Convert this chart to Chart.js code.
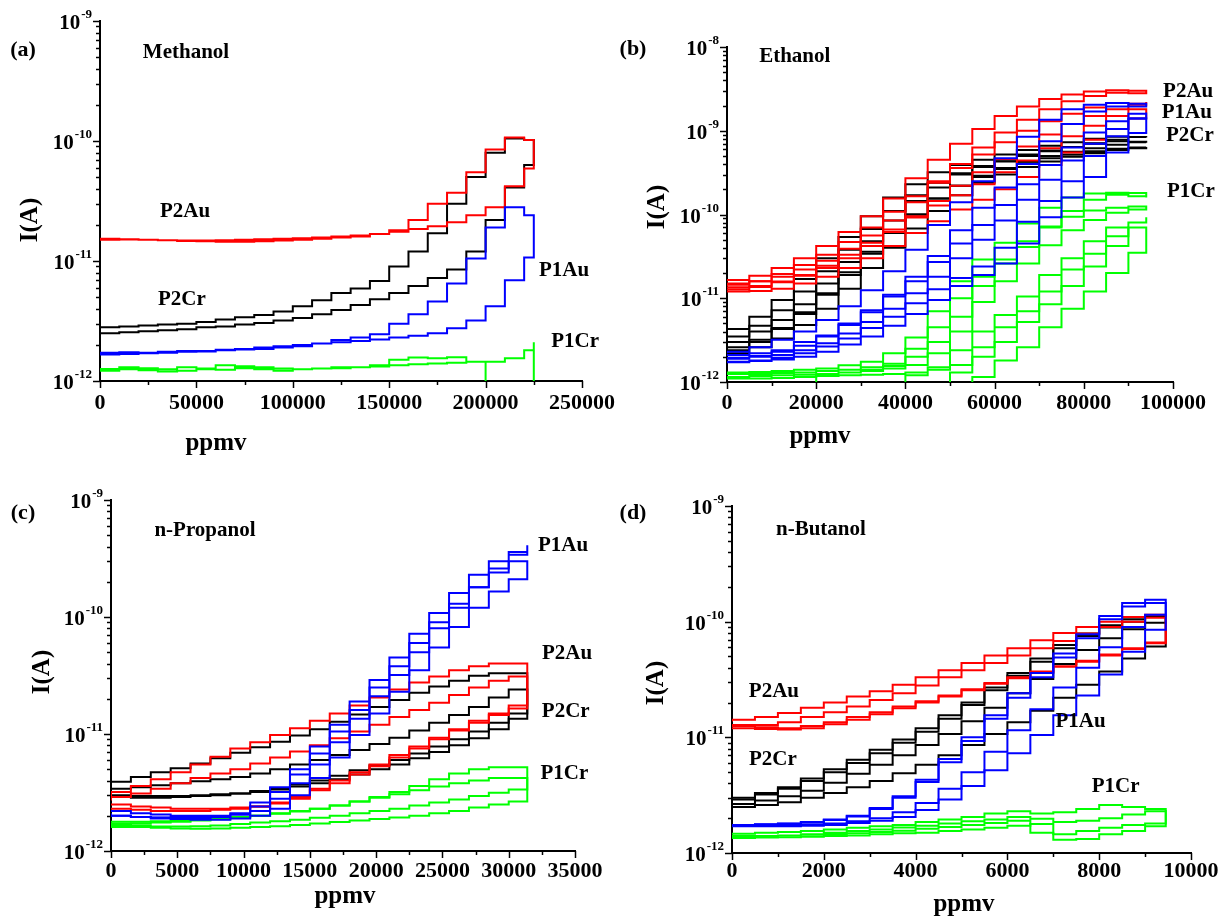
<!DOCTYPE html>
<html><head><meta charset="utf-8">
<script src="https://cdn.jsdelivr.net/npm/chart.js@4.4.0/dist/chart.umd.min.js"></script>
<style>
html,body{margin:0;padding:0;background:#fff;width:1224px;height:919px;overflow:hidden;position:relative}
canvas{position:absolute}
</style>
</head><body>
<canvas id="ca" width="650" height="459" style="left:0px;top:0px"></canvas>
<canvas id="cb" width="624" height="459" style="left:600px;top:0px"></canvas>
<canvas id="cc" width="650" height="460" style="left:0px;top:459px"></canvas>
<canvas id="cd" width="624" height="460" style="left:600px;top:459px"></canvas>
<script>
// ---------------- (a) Methanol ----------------
const MeOH_X = [0,10000,20000,30000,40000,50000,60000,70000,80000,90000,100000,110000,120000,130000,140000,150000,160000,170000,180000,190000,200000,210000,220000,225000];
const MeOH_P2Au_up = [1.5e-11,1.52e-11,1.5e-11,1.49e-11,1.47e-11,1.46e-11,1.45e-11,1.45e-11,1.46e-11,1.48e-11,1.5e-11,1.53e-11,1.57e-11,1.6e-11,1.68e-11,1.8e-11,2.2e-11,3.0e-11,3.7e-11,5.5e-11,8.5e-11,1.07e-10,1.02e-10,1.02e-10];
const MeOH_P2Au_dn = [1.55e-11,1.53e-11,1.51e-11,1.5e-11,1.49e-11,1.48e-11,1.48e-11,1.49e-11,1.5e-11,1.52e-11,1.53e-11,1.55e-11,1.57e-11,1.6e-11,1.63e-11,1.68e-11,1.75e-11,1.85e-11,1.95e-11,2.1e-11,2.4e-11,2.8e-11,4.2e-11,5.9e-11];
const MeOH_P2Cr_up = [2.8e-12,2.85e-12,2.9e-12,2.95e-12,3.0e-12,3.1e-12,3.25e-12,3.4e-12,3.55e-12,3.8e-12,4.2e-12,4.7e-12,5.4e-12,5.9e-12,6.8e-12,9.0e-12,1.2e-11,1.7e-11,3.0e-11,5.0e-11,8.0e-11,1.05e-10,1.02e-10,1.02e-10];
const MeOH_P2Cr_dn = [2.45e-12,2.5e-12,2.55e-12,2.6e-12,2.65e-12,2.7e-12,2.8e-12,2.85e-12,2.95e-12,3.05e-12,3.2e-12,3.35e-12,3.6e-12,3.9e-12,4.3e-12,4.8e-12,5.4e-12,6.2e-12,7.2e-12,8.5e-12,1.2e-11,2.2e-11,4.1e-11,6.3e-11];
const MeOH_P1Au_up = [1.72e-12,1.74e-12,1.72e-12,1.75e-12,1.78e-12,1.76e-12,1.8e-12,1.83e-12,1.85e-12,1.9e-12,1.95e-12,2.05e-12,2.2e-12,2.3e-12,2.45e-12,3.0e-12,3.6e-12,4.6e-12,6.5e-12,1.05e-11,1.9e-11,2.8e-11,2.4e-11,2.4e-11];
const MeOH_P1Au_dn = [1.68e-12,1.66e-12,1.68e-12,1.7e-12,1.72e-12,1.75e-12,1.78e-12,1.82e-12,1.85e-12,1.9e-12,1.95e-12,2.0e-12,2.05e-12,2.1e-12,2.15e-12,2.22e-12,2.3e-12,2.38e-12,2.5e-12,2.75e-12,3.2e-12,4.2e-12,6.9e-12,1.07e-11];
const MeOH_P1Cr_up = [1.26e-12,1.3e-12,1.28e-12,1.25e-12,1.3e-12,1.27e-12,1.24e-12,1.33e-12,1.3e-12,1.27e-12,1.25e-12,1.27e-12,1.28e-12,1.3e-12,1.32e-12,1.35e-12,1.38e-12,1.4e-12,1.42e-12,1.45e-12,1.45e-12,1.55e-12,1.8e-12,2.1e-12];
const MeOH_P1Cr_dn = [1.2e-12,1.22e-12,1.25e-12,1.23e-12,1.2e-12,1.22e-12,1.25e-12,1.35e-12,1.28e-12,1.25e-12,1.22e-12,1.25e-12,1.27e-12,1.3e-12,1.3e-12,1.35e-12,1.5e-12,1.57e-12,1.55e-12,1.58e-12,1.45e-12,0.85e-12,0.85e-12,0.85e-12];

// ---------------- (b) Ethanol ----------------
const EtOH_X = [0,5000,10000,15000,20000,25000,30000,35000,40000,45000,50000,55000,60000,65000,70000,75000,80000,85000,90000,94000];
const EtOH_P2Au_up1 = [1.5e-11,1.6e-11,1.8e-11,2.2e-11,2.8e-11,3.9e-11,5.6e-11,8.5e-11,1.4e-10,2.4e-10,4.0e-10,6.3e-10,9.5e-10,1.35e-9,1.8e-9,2.25e-9,2.6e-9,2.85e-9,3.0e-9,2.85e-9];
const EtOH_P2Au_dn1 = [1.6e-11,1.65e-11,1.85e-11,2.3e-11,3.0e-11,4.2e-11,6.2e-11,9.5e-11,1.55e-10,2.7e-10,4.5e-10,7.0e-10,1.05e-9,1.5e-9,1.95e-9,2.4e-9,2.7e-9,2.95e-9,3.05e-9,2.8e-9];
const EtOH_P2Au_up2 = [1.35e-11,1.4e-11,1.55e-11,1.85e-11,2.3e-11,3.0e-11,4.2e-11,6.2e-11,9.5e-11,1.45e-10,2.2e-10,3.2e-10,4.6e-10,6.5e-10,9.0e-10,1.2e-9,1.5e-9,1.8e-9,2.1e-9,2.2e-9];
const EtOH_P2Au_dn2 = [1.4e-11,1.45e-11,1.6e-11,1.95e-11,2.5e-11,3.3e-11,4.7e-11,7.0e-11,1.08e-10,1.65e-10,2.5e-10,3.6e-10,5.2e-10,7.3e-10,1.0e-9,1.3e-9,1.6e-9,1.9e-9,2.15e-9,2.05e-9];
const EtOH_P2Au_up3 = [1.2e-11,1.22e-11,1.3e-11,1.5e-11,1.8e-11,2.3e-11,3.0e-11,4.2e-11,6.0e-11,8.3e-11,1.15e-10,1.5e-10,2.0e-10,2.8e-10,3.9e-10,5.5e-10,7.8e-10,1.05e-9,1.4e-9,1.75e-9];
const EtOH_P2Au_dn3 = [1.25e-11,1.28e-11,1.36e-11,1.58e-11,1.9e-11,2.45e-11,3.3e-11,4.6e-11,6.6e-11,9.2e-11,1.28e-10,1.7e-10,2.3e-10,3.2e-10,4.4e-10,6.2e-10,8.6e-10,1.15e-9,1.5e-9,1.8e-9];
const EtOH_P2Cr_up1 = [3.0e-12,4.0e-12,5.5e-12,8.5e-12,1.5e-11,2.7e-11,4.8e-11,8.5e-11,1.45e-10,2.1e-10,3.0e-10,3.7e-10,4.3e-10,5.0e-10,5.7e-10,6.4e-10,7.1e-10,7.8e-10,8.4e-10,8.3e-10];
const EtOH_P2Cr_dn1 = [3.2e-12,4.3e-12,6.0e-12,9.5e-12,1.7e-11,3.0e-11,5.4e-11,9.5e-11,1.6e-10,2.3e-10,3.2e-10,3.9e-10,4.5e-10,5.2e-10,5.9e-10,6.6e-10,7.3e-10,8.0e-10,8.5e-10,8.4e-10];
const EtOH_P2Cr_up2 = [2.6e-12,3.2e-12,4.3e-12,6.5e-12,1.1e-11,1.9e-11,3.4e-11,6.0e-11,1.0e-10,1.55e-10,2.2e-10,2.9e-10,3.6e-10,4.3e-10,5.0e-10,5.6e-10,6.2e-10,6.8e-10,7.3e-10,7.2e-10];
const EtOH_P2Cr_dn2 = [2.8e-12,3.5e-12,4.7e-12,7.2e-12,1.2e-11,2.1e-11,3.8e-11,6.7e-11,1.1e-10,1.7e-10,2.4e-10,3.1e-10,3.8e-10,4.5e-10,5.2e-10,5.8e-10,6.4e-10,7.0e-10,7.5e-10,7.4e-10];
const EtOH_P2Cr_up3 = [2.2e-12,2.6e-12,3.3e-12,4.8e-12,7.5e-12,1.3e-11,2.3e-11,4.0e-11,6.8e-11,1.1e-10,1.7e-10,2.4e-10,3.0e-10,3.7e-10,4.3e-10,4.9e-10,5.4e-10,5.9e-10,6.3e-10,6.4e-10];
const EtOH_P2Cr_dn3 = [2.0e-12,2.4e-12,3.0e-12,4.4e-12,6.8e-12,1.15e-11,2.05e-11,3.6e-11,6.1e-11,1.0e-10,1.55e-10,2.2e-10,2.8e-10,3.5e-10,4.1e-10,4.7e-10,5.2e-10,5.7e-10,6.1e-10,6.2e-10];
const EtOH_P1Au_up1 = [2.1e-12,2.2e-12,2.4e-12,3.0e-12,3.6e-12,5.0e-12,7.2e-12,1.1e-11,1.8e-11,3.2e-11,6.5e-11,1.2e-10,2.1e-10,4.0e-10,7.5e-10,1.2e-9,1.7e-9,1.95e-9,2.1e-9,1.9e-9];
const EtOH_P1Au_dn1 = [2.2e-12,2.3e-12,2.6e-12,3.2e-12,4.0e-12,5.5e-12,8.0e-12,1.25e-11,2.1e-11,3.8e-11,7.5e-11,1.4e-10,2.5e-10,4.7e-10,8.5e-10,1.35e-9,1.8e-9,2.05e-9,2.15e-9,1.95e-9];
const EtOH_P1Au_up2 = [1.9e-12,2.0e-12,2.1e-12,2.4e-12,2.9e-12,3.8e-12,5.2e-12,7.5e-12,1.15e-11,1.8e-11,3.0e-11,5.0e-11,8.5e-11,1.5e-10,2.6e-10,4.4e-10,7.0e-10,1.05e-9,1.4e-9,1.65e-9];
const EtOH_P1Au_dn2 = [1.85e-12,1.95e-12,2.05e-12,2.3e-12,2.7e-12,3.5e-12,4.8e-12,6.8e-12,1.05e-11,1.6e-11,2.7e-11,4.5e-11,7.5e-11,1.3e-10,2.3e-10,3.9e-10,6.3e-10,9.5e-10,1.3e-9,1.6e-9];
const EtOH_P1Au_up3 = [1.75e-12,1.78e-12,1.85e-12,2.0e-12,2.3e-12,2.8e-12,3.5e-12,4.7e-12,6.5e-12,9.5e-12,1.4e-11,1.9e-11,2.6e-11,4.5e-11,9.3e-11,1.6e-10,2.8e-10,5.5e-10,9.4e-10,1.45e-9];
const EtOH_P1Au_dn3 = [1.7e-12,1.72e-12,1.8e-12,1.95e-12,2.2e-12,2.65e-12,3.3e-12,4.4e-12,6.0e-12,8.7e-12,1.28e-11,1.75e-11,2.4e-11,4.0e-11,8.2e-11,1.45e-10,2.5e-10,5.0e-10,8.6e-10,1.4e-9];
const EtOH_P1Cr_up1 = [1.25e-12,1.25e-12,1.28e-12,1.3e-12,1.35e-12,1.4e-12,1.5e-12,1.65e-12,2.0e-12,3.0e-12,6.0e-12,1.4e-11,2.6e-11,4.1e-11,7.0e-11,1.1e-10,1.5e-10,1.72e-10,1.8e-10,1.6e-10];
const EtOH_P1Cr_dn1 = [1.3e-12,1.3e-12,1.32e-12,1.35e-12,1.4e-12,1.45e-12,1.58e-12,1.75e-12,2.2e-12,3.4e-12,7.0e-12,1.6e-11,2.9e-11,4.6e-11,7.8e-11,1.2e-10,1.6e-10,1.78e-10,1.82e-10,1.65e-10];
const EtOH_P1Cr_up2 = [1.15e-12,1.18e-12,1.2e-12,1.22e-12,1.25e-12,1.3e-12,1.35e-12,1.45e-12,1.6e-12,2.2e-12,4.0e-12,9.0e-12,1.6e-11,2.6e-11,4.3e-11,6.5e-11,8.6e-11,1.05e-10,1.15e-10,1.2e-10];
const EtOH_P1Cr_dn2 = [0.9e-12,0.9e-12,0.9e-12,0.9e-12,0.9e-12,1.2e-12,1.3e-12,1.4e-12,1.55e-12,2.5e-12,4.5e-12,1.0e-11,1.8e-11,2.9e-11,4.8e-11,7.2e-11,9.4e-11,1.12e-10,1.2e-10,1.25e-10];
const EtOH_P1Cr_up3 = [1.1e-12,1.1e-12,1.12e-12,1.15e-12,1.18e-12,1.2e-12,1.22e-12,1.25e-12,1.3e-12,1.4e-12,1.6e-12,2.6e-12,4.5e-12,7.0e-12,1.2e-11,2.2e-11,3.4e-11,5.5e-11,8.0e-11,9.3e-11];
const EtOH_P1Cr_dn3 = [0.85e-12,0.85e-12,0.85e-12,0.85e-12,0.85e-12,0.85e-12,0.85e-12,0.85e-12,0.85e-12,1.2e-12,1.5e-12,2.4e-12,4.0e-12,6.3e-12,1.05e-11,1.9e-11,3.0e-11,4.8e-11,7.0e-11,8.0e-11];
const EtOH_P1Cr_up4 = [0.85e-12,0.85e-12,0.85e-12,0.85e-12,0.85e-12,0.85e-12,0.85e-12,0.85e-12,0.85e-12,0.85e-12,0.9e-12,1.15e-12,1.8e-12,2.6e-12,4.5e-12,7.5e-12,1.2e-11,2.0e-11,3.5e-11,6.5e-11];
const EtOH_P1Cr_dn4 = [0.85e-12,0.85e-12,0.85e-12,0.85e-12,0.85e-12,0.85e-12,0.85e-12,0.85e-12,0.85e-12,0.85e-12,0.85e-12,1.3e-12,2.0e-12,3.0e-12,5.2e-12,8.5e-12,1.4e-11,2.4e-11,4.2e-11,7.0e-11];

// ---------------- (c) n-Propanol ----------------
const PrOH_X = [0,1500,3000,4500,6000,7500,9000,10500,12000,13500,15000,16500,18000,19500,21000,22500,24000,25500,27000,28500,30000,31400];
const PrOH_P1Au_up1 = [2.2e-12,2.1e-12,2.05e-12,2.0e-12,2.0e-12,2.0e-12,2.05e-12,2.2e-12,2.8e-12,3.8e-12,5.5e-12,8.5e-12,1.35e-11,2.1e-11,3.2e-11,5.0e-11,8.0e-11,1.2e-10,1.8e-10,2.6e-10,3.4e-10,4.1e-10];
const PrOH_P1Au_dn1 = [2.1e-12,2.0e-12,1.95e-12,1.92e-12,1.92e-12,1.92e-12,1.95e-12,2.1e-12,2.6e-12,3.5e-12,5.0e-12,7.8e-12,1.2e-11,1.9e-11,2.9e-11,4.5e-11,7.2e-11,1.08e-10,1.6e-10,2.3e-10,3.0e-10,3.6e-10];
const PrOH_P1Au_up2 = [2.0e-12,1.95e-12,1.9e-12,1.88e-12,1.85e-12,1.85e-12,1.9e-12,2.0e-12,2.3e-12,3.0e-12,4.2e-12,6.3e-12,9.8e-12,1.5e-11,2.3e-11,3.5e-11,5.5e-11,8.2e-11,1.2e-10,1.65e-10,2.1e-10,2.4e-10];
const PrOH_P1Au_dn2 = [2.05e-12,2.0e-12,1.95e-12,1.93e-12,1.9e-12,1.9e-12,1.95e-12,2.05e-12,2.4e-12,3.2e-12,4.5e-12,6.8e-12,1.05e-11,1.6e-11,2.5e-11,3.8e-11,6.0e-11,9.0e-11,1.3e-10,1.8e-10,2.4e-10,3.0e-10];
const PrOH_P2Au_up1 = [2.5e-12,2.4e-12,2.35e-12,2.3e-12,2.3e-12,2.3e-12,2.35e-12,2.4e-12,2.55e-12,2.8e-12,3.4e-12,4.0e-12,4.7e-12,5.5e-12,6.6e-12,7.8e-12,9.3e-12,1.1e-11,1.3e-11,1.5e-11,1.75e-11,1.95e-11];
const PrOH_P2Au_dn1 = [2.8e-12,3.2e-12,3.6e-12,4.1e-12,4.7e-12,5.5e-12,6.4e-12,7.5e-12,8.5e-12,9.8e-12,1.12e-11,1.3e-11,1.5e-11,1.75e-11,2.05e-11,2.4e-11,2.75e-11,3.1e-11,3.5e-11,3.8e-11,4.0e-11,4.0e-11];
const PrOH_P2Au_up2 = [2.3e-12,2.25e-12,2.2e-12,2.2e-12,2.2e-12,2.25e-12,2.3e-12,2.4e-12,2.6e-12,2.9e-12,3.3e-12,3.8e-12,4.5e-12,5.3e-12,6.3e-12,7.5e-12,9.0e-12,1.07e-11,1.25e-11,1.45e-11,1.65e-11,1.75e-11];
const PrOH_P2Au_dn2 = [2.7e-12,2.9e-12,3.1e-12,3.4e-12,3.8e-12,4.2e-12,4.6e-12,5.0e-12,5.6e-12,6.3e-12,7.1e-12,8.0e-12,9.2e-12,1.05e-11,1.2e-11,1.4e-11,1.6e-11,1.85e-11,2.15e-11,2.5e-11,2.85e-11,3.1e-11];
const PrOH_P2Cr_up1 = [3.0e-12,2.95e-12,2.95e-12,2.95e-12,3.0e-12,3.05e-12,3.1e-12,3.2e-12,3.35e-12,3.55e-12,3.8e-12,4.1e-12,4.5e-12,5.0e-12,5.5e-12,6.2e-12,7.0e-12,8.0e-12,9.2e-12,1.1e-11,1.35e-11,1.6e-11];
const PrOH_P2Cr_dn1 = [3.6e-12,3.9e-12,4.3e-12,4.7e-12,5.1e-12,5.6e-12,6.2e-12,6.9e-12,7.7e-12,8.6e-12,9.7e-12,1.1e-11,1.27e-11,1.47e-11,1.7e-11,1.95e-11,2.25e-11,2.55e-11,2.85e-11,3.15e-11,3.3e-11,3.3e-11];
const PrOH_P2Cr_up2 = [2.9e-12,2.85e-12,2.85e-12,2.9e-12,2.95e-12,3.0e-12,3.1e-12,3.25e-12,3.45e-12,3.7e-12,4.0e-12,4.4e-12,4.9e-12,5.4e-12,6.0e-12,6.8e-12,7.8e-12,9.0e-12,1.05e-11,1.25e-11,1.5e-11,1.7e-11];
const PrOH_P2Cr_dn2 = [3.3e-12,3.4e-12,3.5e-12,3.65e-12,3.8e-12,3.95e-12,4.1e-12,4.3e-12,4.6e-12,5.0e-12,5.5e-12,6.0e-12,6.6e-12,7.3e-12,8.2e-12,9.3e-12,1.07e-11,1.25e-11,1.45e-11,1.7e-11,2.05e-11,2.4e-11];
const PrOH_P1Cr_up1 = [1.6e-12,1.6e-12,1.58e-12,1.56e-12,1.55e-12,1.56e-12,1.58e-12,1.6e-12,1.63e-12,1.67e-12,1.72e-12,1.77e-12,1.82e-12,1.88e-12,1.93e-12,2.0e-12,2.1e-12,2.2e-12,2.35e-12,2.5e-12,2.65e-12,2.8e-12];
const PrOH_P1Cr_dn1 = [1.8e-12,1.78e-12,1.78e-12,1.8e-12,1.82e-12,1.85e-12,1.9e-12,1.95e-12,2.0e-12,2.1e-12,2.2e-12,2.3e-12,2.45e-12,2.65e-12,2.9e-12,3.2e-12,3.6e-12,4.1e-12,4.6e-12,5.0e-12,5.2e-12,5.2e-12];
const PrOH_P1Cr_up2 = [1.65e-12,1.65e-12,1.62e-12,1.62e-12,1.63e-12,1.65e-12,1.7e-12,1.75e-12,1.8e-12,1.85e-12,1.92e-12,2.0e-12,2.1e-12,2.2e-12,2.3e-12,2.45e-12,2.6e-12,2.75e-12,2.95e-12,3.15e-12,3.35e-12,3.5e-12];
const PrOH_P1Cr_dn2 = [1.7e-12,1.72e-12,1.73e-12,1.75e-12,1.78e-12,1.82e-12,1.87e-12,1.93e-12,2.0e-12,2.08e-12,2.18e-12,2.3e-12,2.45e-12,2.65e-12,2.85e-12,3.05e-12,3.3e-12,3.55e-12,3.8e-12,4.0e-12,4.2e-12,4.2e-12];

// ---------------- (d) n-Butanol ----------------
const BuOH_X = [0,500,1000,1500,2000,2500,3000,3500,4000,4500,5000,5500,6000,6500,7000,7500,8000,8500,9000,9450];
const BuOH_P2Au_up1 = [1.25e-11,1.22e-11,1.2e-11,1.25e-11,1.35e-11,1.5e-11,1.65e-11,1.85e-11,2.05e-11,2.3e-11,2.6e-11,2.95e-11,3.3e-11,3.7e-11,4.1e-11,4.5e-11,5.1e-11,5.8e-11,6.6e-11,7.0e-11];
const BuOH_P2Au_dn1 = [1.37e-11,1.42e-11,1.5e-11,1.62e-11,1.8e-11,2.0e-11,2.25e-11,2.5e-11,2.85e-11,3.3e-11,3.8e-11,4.4e-11,5.1e-11,5.9e-11,6.9e-11,8.0e-11,9.0e-11,1.0e-10,1.1e-10,1.15e-10];
const BuOH_P2Au_up2 = [1.2e-11,1.18e-11,1.17e-11,1.2e-11,1.3e-11,1.42e-11,1.58e-11,1.78e-11,2.0e-11,2.25e-11,2.55e-11,2.9e-11,3.25e-11,3.65e-11,4.1e-11,4.6e-11,5.2e-11,5.9e-11,6.5e-11,6.8e-11];
const BuOH_P2Au_dn2 = [1.3e-11,1.28e-11,1.28e-11,1.35e-11,1.5e-11,1.65e-11,1.85e-11,2.1e-11,2.4e-11,2.8e-11,3.3e-11,3.8e-11,4.4e-11,5.1e-11,5.9e-11,6.8e-11,7.9e-11,9.0e-11,1.0e-10,1.08e-10];
const BuOH_P2Cr_up1 = [2.5e-12,2.6e-12,2.75e-12,3.0e-12,3.3e-12,3.7e-12,4.2e-12,4.9e-12,5.8e-12,7.0e-12,8.6e-12,1.07e-11,1.35e-11,1.7e-11,2.2e-11,2.85e-11,3.7e-11,4.8e-11,6.1e-11,7.2e-11];
const BuOH_P2Cr_dn1 = [2.8e-12,3.0e-12,3.3e-12,3.7e-12,4.4e-12,5.3e-12,6.4e-12,7.8e-12,9.6e-12,1.2e-11,1.55e-11,2.0e-11,2.7e-11,3.6e-11,4.8e-11,6.3e-11,7.9e-11,9.3e-11,1.05e-10,1.12e-10];
const BuOH_P2Cr_up2 = [2.65e-12,2.85e-12,3.1e-12,3.45e-12,4.05e-12,4.85e-12,5.8e-12,7.0e-12,8.6e-12,1.07e-11,1.38e-11,1.8e-11,2.4e-11,3.2e-11,4.3e-11,5.7e-11,7.2e-11,8.6e-11,9.8e-11,1.07e-10];
const BuOH_P2Cr_dn2 = [2.7e-12,2.9e-12,3.2e-12,3.6e-12,4.2e-12,5.0e-12,6.0e-12,7.3e-12,9.0e-12,1.12e-11,1.45e-11,1.9e-11,2.55e-11,3.4e-11,4.5e-11,5.9e-11,7.5e-11,8.9e-11,1.0e-10,1.1e-10];
const BuOH_P1Au_up1 = [1.7e-12,1.7e-12,1.7e-12,1.72e-12,1.75e-12,1.82e-12,1.9e-12,2.05e-12,2.35e-12,2.9e-12,3.8e-12,5.2e-12,7.3e-12,1.05e-11,1.55e-11,2.3e-11,3.5e-11,5.5e-11,8.5e-11,1.1e-10];
const BuOH_P1Au_dn1 = [1.75e-12,1.75e-12,1.77e-12,1.8e-12,1.85e-12,1.95e-12,2.1e-12,2.45e-12,3.1e-12,4.3e-12,6.5e-12,1.0e-11,1.55e-11,2.4e-11,3.6e-11,5.3e-11,7.8e-11,1.12e-10,1.45e-10,1.55e-10];
const BuOH_P1Au_up2 = [1.72e-12,1.72e-12,1.74e-12,1.76e-12,1.8e-12,1.88e-12,2.0e-12,2.25e-12,2.7e-12,3.6e-12,5.0e-12,7.5e-12,1.15e-11,1.75e-11,2.7e-11,4.0e-11,6.0e-11,9.0e-11,1.15e-10,1.2e-10];
const BuOH_P1Au_dn2 = [1.73e-12,1.74e-12,1.76e-12,1.79e-12,1.84e-12,1.93e-12,2.07e-12,2.4e-12,3.0e-12,4.1e-12,6.1e-12,9.3e-12,1.45e-11,2.2e-11,3.3e-11,4.9e-11,7.2e-11,1.05e-10,1.35e-10,1.45e-10];
const BuOH_P1Cr_up1 = [1.35e-12,1.36e-12,1.37e-12,1.38e-12,1.4e-12,1.42e-12,1.45e-12,1.48e-12,1.5e-12,1.55e-12,1.6e-12,1.65e-12,1.72e-12,1.78e-12,1.3e-12,1.32e-12,1.45e-12,1.55e-12,1.7e-12,1.85e-12];
const BuOH_P1Cr_dn1 = [1.45e-12,1.47e-12,1.5e-12,1.52e-12,1.55e-12,1.6e-12,1.65e-12,1.7e-12,1.75e-12,1.85e-12,1.95e-12,2.05e-12,2.2e-12,2.3e-12,2.2e-12,2.25e-12,2.4e-12,2.6e-12,2.5e-12,2.4e-12];
const BuOH_P1Cr_up2 = [1.4e-12,1.4e-12,1.42e-12,1.44e-12,1.46e-12,1.48e-12,1.52e-12,1.56e-12,1.62e-12,1.68e-12,1.75e-12,1.82e-12,1.9e-12,1.98e-12,1.85e-12,1.9e-12,2.0e-12,2.15e-12,2.3e-12,2.35e-12];
const BuOH_P1Cr_dn2 = [1.38e-12,1.38e-12,1.4e-12,1.42e-12,1.45e-12,1.5e-12,1.55e-12,1.6e-12,1.66e-12,1.72e-12,1.8e-12,1.88e-12,1.95e-12,2.05e-12,1.5e-12,1.45e-12,1.55e-12,1.65e-12,1.75e-12,1.8e-12];

// ---------------- styling / layout ----------------
const FONT = '"Liberation Serif","Times New Roman",serif';
const COLORS = { P2Au: '#ff0000', P2Cr: '#000000', P1Au: '#0000ff', P1Cr: '#00ff00' };

const panels = [
  { canvas: 'ca', xs: MeOH_X, xMax: 250000, xStep: 50000, yMin: 1e-12, yMax: 1e-9,
    area: { left: 100, right: 582, top: 21, bottom: 381 }, tickPad: 9, lw: 2,
    loops: [['P1Au', MeOH_P1Au_up, MeOH_P1Au_dn], ['P2Au', MeOH_P2Au_up, MeOH_P2Au_dn],
            ['P2Cr', MeOH_P2Cr_up, MeOH_P2Cr_dn], ['P1Cr', MeOH_P1Cr_up, MeOH_P1Cr_dn]],
    letter: '(a)', letterPos: [23, 50], name: 'Methanol', namePos: [44600, 5.5e-10],
    labels: [['P2Au', 44100, 2.6e-11], ['P2Cr', 42500, 4.8e-12], ['P1Au', 240700, 8.3e-12], ['P1Cr', 246400, 2.15e-12]],
    xTitle: [216, 444], yTitle: [31, 220] },
  { canvas: 'cb', xs: EtOH_X, xMax: 100000, xStep: 20000, yMin: 1e-12, yMax: 1e-8,
    area: { left: 127, right: 573, top: 47, bottom: 382 }, tickPad: 8, lw: 2,
    loops: [['P1Au', EtOH_P1Au_up1, EtOH_P1Au_dn1], ['P1Au', EtOH_P1Au_up2, EtOH_P1Au_dn2], ['P1Au', EtOH_P1Au_up3, EtOH_P1Au_dn3],
            ['P2Au', EtOH_P2Au_up1, EtOH_P2Au_dn1], ['P2Au', EtOH_P2Au_up2, EtOH_P2Au_dn2], ['P2Au', EtOH_P2Au_up3, EtOH_P2Au_dn3],
            ['P2Cr', EtOH_P2Cr_up1, EtOH_P2Cr_dn1], ['P2Cr', EtOH_P2Cr_up2, EtOH_P2Cr_dn2], ['P2Cr', EtOH_P2Cr_up3, EtOH_P2Cr_dn3],
            ['P1Cr', EtOH_P1Cr_up1, EtOH_P1Cr_dn1], ['P1Cr', EtOH_P1Cr_up2, EtOH_P1Cr_dn2], ['P1Cr', EtOH_P1Cr_up3, EtOH_P1Cr_dn3], ['P1Cr', EtOH_P1Cr_up4, EtOH_P1Cr_dn4]],
    letter: '(b)', letterPos: [33, 49], name: 'Ethanol', namePos: [15200, 7.6e-9],
    labels: [['P2Au', 103400, 2.9e-9], ['P1Au', 103100, 1.63e-9], ['P2Cr', 103800, 8.65e-10], ['P1Cr', 104000, 1.86e-10]],
    xTitle: [220, 437], yTitle: [58, 207] },
  { canvas: 'cc', xs: PrOH_X, xMax: 35000, xStep: 5000, yMin: 1e-12, yMax: 1e-9,
    area: { left: 111, right: 575, top: 41, bottom: 392 }, tickPad: 7, lw: 2,
    loops: [['P1Au', PrOH_P1Au_up1, PrOH_P1Au_dn1], ['P1Au', PrOH_P1Au_up2, PrOH_P1Au_dn2],
            ['P2Au', PrOH_P2Au_up1, PrOH_P2Au_dn1], ['P2Au', PrOH_P2Au_up2, PrOH_P2Au_dn2],
            ['P2Cr', PrOH_P2Cr_up1, PrOH_P2Cr_dn1], ['P2Cr', PrOH_P2Cr_up2, PrOH_P2Cr_dn2],
            ['P1Cr', PrOH_P1Cr_up1, PrOH_P1Cr_dn1], ['P1Cr', PrOH_P1Cr_up2, PrOH_P1Cr_dn2]],
    letter: '(c)', letterPos: [23, 54], name: 'n-Propanol', namePos: [7090, 5.43e-10],
    labels: [['P1Au', 34100, 4.1e-10], ['P2Au', 34400, 4.83e-11], ['P2Cr', 34300, 1.57e-11], ['P1Cr', 34200, 4.55e-12]],
    xTitle: [345, 438], yTitle: [43, 213] },
  { canvas: 'cd', xs: BuOH_X, xMax: 10000, xStep: 2000, yMin: 1e-12, yMax: 1e-9,
    area: { left: 132, right: 591, top: 47, bottom: 394 }, tickPad: 5, lw: 2,
    loops: [['P1Au', BuOH_P1Au_up1, BuOH_P1Au_dn1], ['P1Au', BuOH_P1Au_up2, BuOH_P1Au_dn2],
            ['P2Au', BuOH_P2Au_up1, BuOH_P2Au_dn1], ['P2Au', BuOH_P2Au_up2, BuOH_P2Au_dn2],
            ['P2Cr', BuOH_P2Cr_up1, BuOH_P2Cr_dn1], ['P2Cr', BuOH_P2Cr_up2, BuOH_P2Cr_dn2],
            ['P1Cr', BuOH_P1Cr_up1, BuOH_P1Cr_dn1], ['P1Cr', BuOH_P1Cr_up2, BuOH_P1Cr_dn2]],
    letter: '(d)', letterPos: [33, 54], name: 'n-Butanol', namePos: [1937, 6.2e-10],
    labels: [['P2Au', 914, 2.47e-11], ['P2Cr', 892, 6.38e-12], ['P1Au', 7595, 1.36e-11], ['P1Cr', 8357, 3.72e-12]],
    xTitle: [364, 446], yTitle: [57, 224] }
];

// one closed hysteresis loop: up-sweep left->right, then down-sweep right->left
function loopPoints(xs, up, dn) {
  const pts = xs.map((x, i) => ({ x: x, y: up[i] }));
  for (let i = xs.length - 1; i >= 0; i--) pts.push({ x: xs[i], y: dn[i] });
  return pts;
}

function makeDecor(spec) {
  return {
    id: 'decor',
    afterDraw(chart) {
      const ctx = chart.ctx, ca = chart.chartArea;
      const xs = chart.scales.x, ys = chart.scales.y;
      ctx.save();
      ctx.strokeStyle = '#000'; ctx.fillStyle = '#000'; ctx.lineWidth = 1.5;
      const seg = (x1, y1, x2, y2) => { ctx.beginPath(); ctx.moveTo(x1, y1); ctx.lineTo(x2, y2); ctx.stroke(); };
      // x tick marks (major + minor)
      const n = Math.round(spec.xMax / spec.xStep) * 2;
      for (let k = 0; k <= n; k++) {
        const px = Math.round(xs.getPixelForValue(k * spec.xStep / 2)) + 0.5;
        seg(px, ca.bottom, px, ca.bottom + (k % 2 === 0 ? 7 : 4));
      }
      // y tick marks and labels 10^n
      const e0 = Math.round(Math.log10(spec.yMin)), e1 = Math.round(Math.log10(spec.yMax));
      for (let e = e0; e <= e1; e++) {
        const d = Number('1e' + e);
        const py = Math.round(ys.getPixelForValue(d)) + 0.5;
        seg(ca.left - 7, py, ca.left, py);
        if (e < e1) {
          for (let m = 2; m <= 9; m++) {
            const pm = Math.round(ys.getPixelForValue(m * d)) + 0.5;
            seg(ca.left - 4, pm, ca.left, pm);
          }
        }
        ctx.textAlign = 'right'; ctx.textBaseline = 'alphabetic';
        ctx.font = 'bold 13px ' + FONT;
        const sup = String(e);
        const sw = ctx.measureText(sup).width;
        const rx = ca.left - 8;
        ctx.fillText(sup, rx, py - 4);
        ctx.font = 'bold 21px ' + FONT;
        ctx.fillText('10', rx - sw - 1, py + 7);
      }
      // axis titles
      ctx.textAlign = 'center'; ctx.textBaseline = 'middle';
      ctx.font = 'bold 25px ' + FONT;
      ctx.fillText('ppmv', spec.xTitle[0], spec.xTitle[1]);
      ctx.save();
      ctx.translate(spec.yTitle[0], spec.yTitle[1]);
      ctx.rotate(-Math.PI / 2);
      ctx.fillText('I(A)', 0, 0);
      ctx.restore();
      // panel letter and compound name
      ctx.font = 'bold 22px ' + FONT;
      ctx.fillText(spec.letter, spec.letterPos[0], spec.letterPos[1]);
      ctx.font = 'bold 21px ' + FONT;
      ctx.fillText(spec.name, xs.getPixelForValue(spec.namePos[0]), ys.getPixelForValue(spec.namePos[1]));
      // sensor labels
      spec.labels.forEach(l => {
        ctx.fillText(l[0], xs.getPixelForValue(l[1]), ys.getPixelForValue(l[2]));
      });
      ctx.restore();
    }
  };
}

panels.forEach(spec => {
  const cv = document.getElementById(spec.canvas);
  const W = cv.width, H = cv.height;
  const datasets = spec.loops.map(l => ({
    data: loopPoints(spec.xs, l[1], l[2]),
    borderColor: COLORS[l[0]],
    borderWidth: spec.lw,
    stepped: true,
    pointRadius: 0,
    fill: false,
    tension: 0
  }));
  new Chart(cv, {
    type: 'line',
    data: { datasets: datasets },
    options: {
      responsive: false, animation: false, events: [], devicePixelRatio: 1,
      layout: { padding: { left: 0, top: spec.area.top, right: W - spec.area.right, bottom: 0 } },
      plugins: { legend: { display: false }, tooltip: { enabled: false } },
      scales: {
        x: {
          type: 'linear', min: 0, max: spec.xMax,
          border: { display: true, color: '#000', width: 2 },
          grid: { display: false, drawTicks: false },
          ticks: {
            stepSize: spec.xStep, autoSkip: false, maxRotation: 0, color: '#000',
            padding: spec.tickPad,
            font: { family: FONT, size: 22, weight: 'bold' },
            callback: v => String(v)
          },
          afterFit: s => { s.height = H - spec.area.bottom; }
        },
        y: {
          type: 'logarithmic', min: spec.yMin, max: spec.yMax,
          border: { display: true, color: '#000', width: 2 },
          grid: { display: false, drawTicks: false },
          ticks: { display: false },
          afterFit: s => { s.width = spec.area.left; }
        }
      }
    },
    plugins: [makeDecor(spec)]
  });
});
</script>
</body></html>
